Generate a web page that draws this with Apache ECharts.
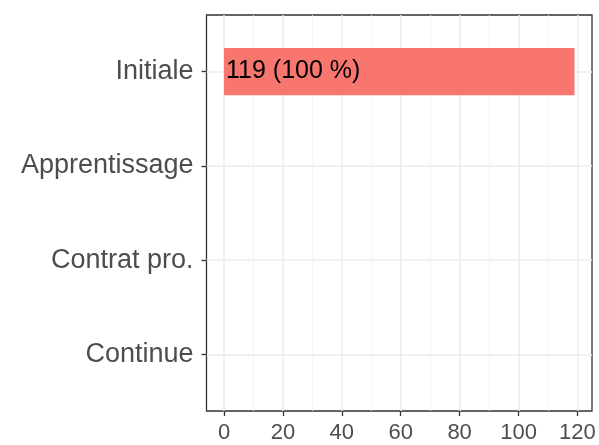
<!DOCTYPE html>
<html>
<head>
<meta charset="utf-8">
<script src="https://cdn.jsdelivr.net/npm/echarts@6/dist/echarts.min.js"></script>
<style>
  html, body { margin: 0; padding: 0; background: #fff; }
  #chart { width: 599px; height: 445px; }
</style>
</head>
<body>
<div id="chart"></div>
<script>
  // data
  const categories = ["Initiale", "Apprentissage", "Contrat pro.", "Continue"]
  const counts = [119, 0, 0, 0]
  const xTicks = [0, 20, 40, 60, 80, 100, 120]
  const xMinorTicks = [10, 30, 50, 70, 90, 110]
  const yTicks = [0, 1, 2, 3]

  const total = counts.reduce((s, v) => s + v, 0)
  const font = "Liberation Sans, Arial, sans-serif"

  let myChart = echarts.init(document.getElementById("chart"))
  myChart.setOption({
    backgroundColor: "#fff",
    animation: false,
    grid: {
      left: 206.5,
      right: 7,
      top: 15,
      bottom: 34,
      show: true,
      borderColor: "#333333",
      borderWidth: 1.3,
      backgroundColor: "transparent"
    },
    xAxis: [
      {
        type: "value",
        min: -5.95,
        max: 124.95,
        axisLine: {show: false, onZero: false},
        axisTick: {show: true, length: 5, customValues: xTicks, lineStyle: {color: "#333333", width: 1.3}},
        axisLabel: {customValues: xTicks, color: "#4D4D4D", fontSize: 22, fontFamily: font, margin: 11},
        splitLine: {show: true, lineStyle: {color: "#EBEBEB", width: 1.5}}
      },
      {
        type: "value",
        min: -5.95,
        max: 124.95,
        position: "bottom",
        axisLine: {show: false, onZero: false},
        axisTick: {show: false, customValues: xMinorTicks},
        axisLabel: {show: false, customValues: xMinorTicks},
        splitLine: {show: true, lineStyle: {color: "#F2F2F2", width: 0.8}}
      }
    ],
    yAxis: {
      type: "value",
      min: -0.6,
      max: 3.6,
      inverse: true,
      axisLine: {show: false, onZero: false},
      axisTick: {show: true, length: 5, customValues: yTicks, lineStyle: {color: "#333333", width: 1.3}},
      axisLabel: {
        customValues: yTicks,
        color: "#4D4D4D",
        fontSize: 27,
        fontFamily: font,
        margin: 13,
        formatter: v => categories[v]
      },
      splitLine: {show: true, lineStyle: {color: "#EBEBEB", width: 1.5}}
    },
    series: [
      {
        type: "custom",
        xAxisIndex: 0,
        yAxisIndex: 0,
        data: counts.map((v, i) => [v, i]),
        renderItem: function (params, api) {
          let v = api.value(0)
          let y = api.value(1)
          let start = api.coord([0, y])
          let end = api.coord([v, y])
          let h = api.size([0, 0.5])[1]
          let children = [{
            type: "rect",
            shape: {x: start[0], y: start[1] - h / 2, width: end[0] - start[0], height: h},
            style: {fill: "#F8766D"}
          }]
          if (v > 0) {
            children.push({
              type: "text",
              style: {
                text: v + " (" + Math.round(v / total * 100) + " %)",
                x: start[0] + 2,
                y: start[1],
                verticalAlign: "middle",
                fill: "#000",
                fontSize: 25,
                fontFamily: font
              }
            })
          }
          return {type: "group", children: children}
        }
      }
    ]
  })
</script>
</body>
</html>
